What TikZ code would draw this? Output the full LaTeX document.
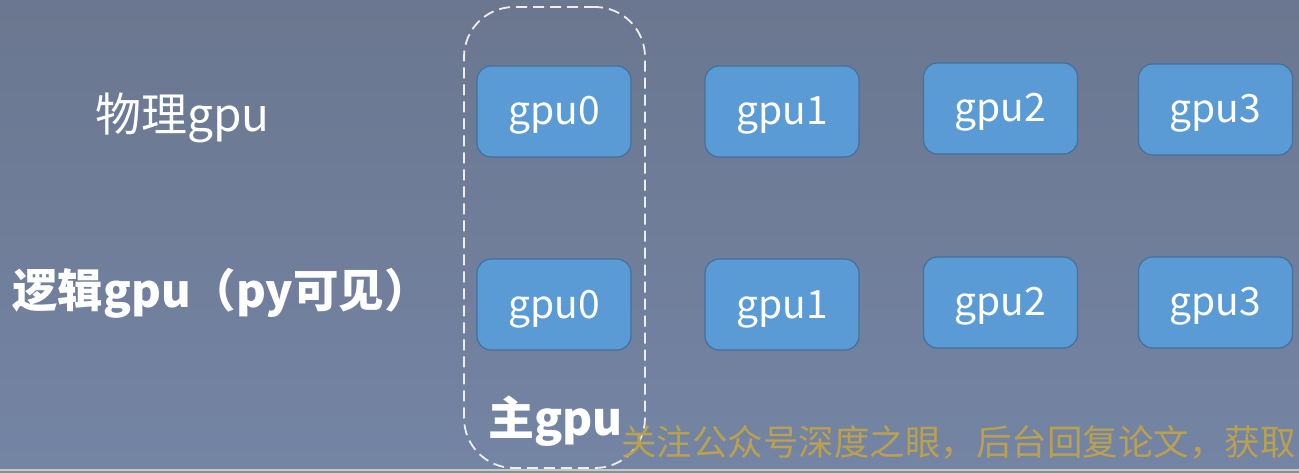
\documentclass[tikz,border=0pt]{standalone}
\usepackage{fontspec}
\setmainfont{Noto Sans CJK SC}
\usetikzlibrary{positioning}
\definecolor{bgtop}{HTML}{6B778F}
\definecolor{bgbot}{HTML}{7484A4}
\definecolor{gpufill}{HTML}{5B9BD5}
\definecolor{gpuedge}{HTML}{41719C}
\definecolor{dashcol}{HTML}{EEEEEE}
\definecolor{wmcol}{HTML}{B9A150}
\definecolor{lineA}{HTML}{C8C8C8}
\definecolor{lineB}{HTML}{8E8E8E}
\begin{document}
\begin{tikzpicture}[x=1pt,y=-1pt,
  gpubox/.style={draw=gpuedge,fill=gpufill,line width=1.2pt,rounded corners=14pt,
    minimum width=154pt,minimum height=91pt,inner sep=0pt,
    text=white,font=\fontsize{39}{42}\selectfont,text height=27pt,text depth=0pt},
  rowlabel/.style={inner sep=0pt,text=white,anchor=base west,font=\fontsize{46}{50}\selectfont},
  mainbox/.style={draw=dashcol,line width=1.8pt,dash pattern=on 11pt off 6pt,rounded corners=50pt,
    minimum width=181pt,minimum height=461pt,inner sep=0pt},
  wm/.style={inner sep=0pt,text=wmcol,anchor=base west,font=\fontsize{35.5}{40}\selectfont}]
\useasboundingbox (0,0) rectangle (1299,473);
\shade[top color=bgtop,bottom color=bgbot] (0,0) rectangle (1299,470);
\fill[lineA] (0,469) rectangle (1299,471);
\fill[lineB] (0,471) rectangle (1299,473);
% dashed main-gpu frame
\node[mainbox] (main) at (554.5,237.5) {};
% row labels
\node[rowlabel] (phys) at (95,132) {物理gpu};
\node[rowlabel,font=\fontsize{45.5}{50}\selectfont\bfseries] (logi) at (12,308) {逻辑gpu（py可见）};
\node[rowlabel,font=\fontsize{46}{50}\selectfont\bfseries] (mainlbl) at (488,435) {主gpu};
% physical gpus
\node[gpubox] (p0) at (554,111.5) {gpu0};
\node[gpubox] (p1) at (782,111.5) {gpu1};
\node[gpubox] (p2) at (1000.5,108.5) {gpu2};
\node[gpubox] (p3) at (1215.5,109.5) {gpu3};
% logical gpus
\node[gpubox] (l0) at (554,304.5) {gpu0};
\node[gpubox] (l1) at (782,304.5) {gpu1};
\node[gpubox] (l2) at (1000.5,302.5) {gpu2};
\node[gpubox] (l3) at (1215.5,302.5) {gpu3};
% watermark
\node[wm] (wmark) at (621,455) {关注公众号深度之眼，后台回复论文，获取};
\end{tikzpicture}
\end{document}
